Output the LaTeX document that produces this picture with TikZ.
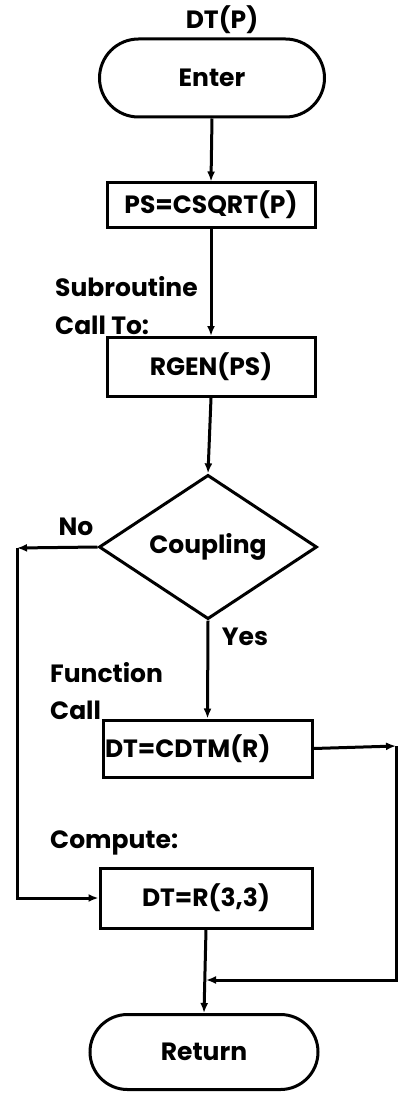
\documentclass[tikz,border=0pt]{standalone}
\usepackage{fontspec}
\setmainfont{Poppins}
\usetikzlibrary{shapes.misc,shapes.geometric,arrows.meta}
\begin{document}
\begin{tikzpicture}[x=1pt,y=-1pt,
  every node/.style={font=\bfseries\fontsize{25}{28}\selectfont},
  line/.style={line width=3pt},
  arr/.style={line,-{Latex[length=10pt,width=8pt]}},
  term/.style={rounded rectangle,draw,line width=3pt,inner sep=0pt},
  proc/.style={rectangle,draw,line width=3pt,inner sep=0pt},
  lbl/.style={anchor=west,inner sep=0pt}]
\useasboundingbox (0,0) rectangle (401,1094);
\node (dtp) at (222,20) {DT(P)};
\node[term,minimum width=225pt,minimum height=78pt] (enter) at (212,78) {Enter};
\node[proc,minimum width=208pt,minimum height=44pt] (ps) at (211,205) {PS=CSQRT(P)};
\node[proc,minimum width=208pt,minimum height=59pt] (rgen) at (211,367) {RGEN(PS)};
\node[diamond,draw,line width=3pt,inner sep=0pt,minimum width=218pt,minimum height=140pt] (coup) at (208,547) {Coupling};
\node[proc,minimum width=209pt,minimum height=57pt,text width=205pt,align=left] (cdtm) at (207.5,748.5) {DT=CDTM(R)};
\node[proc,minimum width=212pt,minimum height=60pt] (r33) at (206,898) {DT=R(3,3)};
\node[term,minimum width=228pt,minimum height=75pt] (ret) at (204,1052) {Return};
\node[lbl] (sub) at (55,287) {Subroutine};
\node[lbl] (callto) at (55,325) {Call To:};
\node (no) at (76,527) {No};
\node (yes) at (245,637) {Yes};
\node[lbl] (func) at (50,673) {Function};
\node[lbl] (call) at (50,710) {Call};
\node[lbl] (comp) at (50,843) {Compute:};
\coordinate (nl) at (17,548);
\coordinate (ne) at (396,746);
\coordinate (j) at (206,980);
\draw[arr] (enter.south) -- (ps.north);
\draw[arr] (ps.south) -- (rgen.north);
\draw[arr] (rgen.south) -- (coup.north);
\draw[arr] (coup.west) -- (nl);
\draw[arr] (nl) |- (r33.west);
\draw[arr] (coup.south) -- (cdtm.north);
\draw[arr] (cdtm.east) -- (ne);
\draw[arr] (ne) |- (j);
\draw[arr] (r33.south) -- (ret.north);
\end{tikzpicture}
\end{document}
